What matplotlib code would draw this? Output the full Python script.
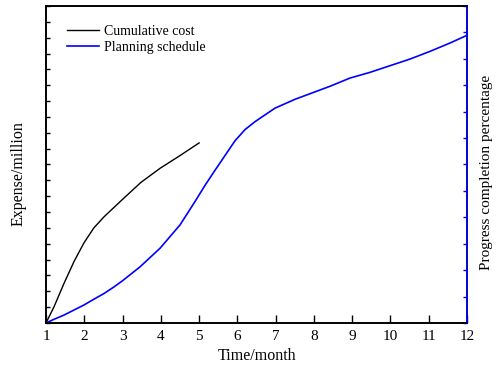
import matplotlib
matplotlib.use('Agg')
import matplotlib.pyplot as plt

plt.rcParams['font.family'] = 'Liberation Serif'

# months and values
cost_month = [1, 1.21, 1.47, 1.73, 1.99, 2.25, 2.52, 2.78, 3.0, 3.48, 3.98,
              4.5, 5.0]
cost = [0, 1.03, 2.50, 3.87, 5.05, 6.0, 6.71, 7.30, 7.80, 8.87, 9.76,
        10.56, 11.36]

plan_month = [1, 1.21, 1.47, 1.73, 1.99, 2.25, 2.52, 2.78, 3.0, 3.46, 3.98,
              4.5, 4.89, 5.15, 5.42, 5.94, 6.2, 6.46, 6.98, 7.51, 8.03,
              8.42, 8.94, 9.47, 9.99, 10.51, 11.03, 11.56, 12.0]
plan = [0, 1.4, 3.0, 4.9, 6.8, 9.0, 11.2, 13.7, 16.0, 21.3, 28.3,
        37.1, 45.9, 52.0, 57.9, 69.0, 73.2, 76.2, 81.3, 84.7, 87.5,
        89.6, 92.7, 94.9, 97.4, 99.9, 102.8, 106.0, 108.9]

months = list(range(1, 13))

fig = plt.figure(figsize=(4.97, 3.65), dpi=100)
ax = fig.add_axes([0.0926, 0.1151, 0.847, 0.8685])
ax2 = ax.twinx()

l1, = ax.plot(cost_month, cost, color='black', lw=1, label='Cumulative cost')
l2, = ax2.plot(plan_month, plan, color='blue', lw=1.2, label='Planning schedule')

ax.set_xlim(1, 12)
ax.set_ylim(0, 20)
ax2.set_ylim(0, 120)
ax.set_xticks(months)
ax.set_yticks(range(0, 21))
ax2.set_yticks(range(0, 121, 10))
ax.set_yticklabels([])
ax2.set_yticklabels([])

ax.tick_params(axis='x', direction='in', length=6, width=1, labelsize=11, pad=5)
ax.tick_params(axis='y', direction='in', length=3, width=1)
ax2.tick_params(axis='y', direction='in', length=3, width=1, colors='blue')

for s in ax.spines.values():
    s.set_linewidth(1.2)
for s in ax2.spines.values():
    s.set_linewidth(1.2)
ax2.spines['right'].set_color('blue')

ax.set_xlabel('Time/month', fontsize=11.5, labelpad=4)
ax.set_ylabel('Expense/million', fontsize=11.5)
ax.yaxis.set_label_coords(-0.047, 0.47)
ax2.set_ylabel('Progress completion percentage', fontsize=11, rotation=90)
ax2.yaxis.set_label_coords(1.032, 0.475)

ax.legend([l1, l2], ['Cumulative cost', 'Planning schedule'], loc='upper left',
          frameon=False, fontsize=10, handlelength=2.3, handletextpad=0.35,
          bbox_to_anchor=(0.02, 0.98), labelspacing=0.2)

fig.savefig('out.png', dpi=100)
